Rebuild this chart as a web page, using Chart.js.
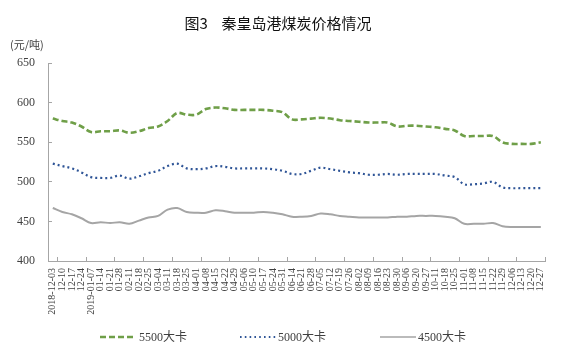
<!DOCTYPE html>
<html>
<head>
<meta charset="utf-8">
<script src="https://cdn.jsdelivr.net/npm/chart.js@4.4.1/dist/chart.umd.min.js"></script>
<style>
  html, body { margin: 0; padding: 0; background: #ffffff; }
  #wrap { position: relative; width: 564px; height: 357px; }
  #legend { position: absolute; left: 0; top: 329px; width: 564px; height: 16px;
            font-family: "Liberation Serif", "Noto Sans CJK SC", serif; font-size: 12px; color: #404040; }
  .item { position: absolute; top: 0; height: 16px; line-height: 16px; white-space: nowrap; }
  .item svg { position: absolute; left: 0; top: 3px; }
  .item span { position: absolute; top: 0; }
</style>
</head>
<body>
<div id="wrap">
  <canvas id="c" width="564" height="357"></canvas>
  <div id="legend"></div>
</div>
<script>
const labels = ["2018-12-03","12-10","12-17","12-24","2019-01-07","01-14","01-21","01-28","02-11","02-18",
  "02-25","03-04","03-11","03-18","03-25","04-01","04-08","04-15","04-22","04-29",
  "05-06","05-10","05-17","05-24","05-31","06-14","06-21","06-28","07-05","07-12",
  "07-19","07-26","08-02","08-09","08-16","08-23","08-30","09-06","09-20","09-27",
  "10-11","10-18","10-25","11-01","11-08","11-15","11-22","11-29","12-06","12-13",
  "12-20","12-27"];

const seriesNames = ["5500大卡", "5000大卡", "4500大卡"];

const kcal5500 = [580,577,575,570,563,564,564,565,562,564,
  568,570,577,587,585,585,592,594,593,591,
  591,591,591,590,588,579,579,580,581,580,
  578,577,576,575,575,575,570,571,571,570,
  569,567,565,558,558,558,558,550,548,548,
  548,550];

const kcal5000 = [523,520,517,512,506,505,505,508,504,507,
  511,514,520,523,517,516,517,520,519,517,
  517,517,517,516,514,510,510,514,518,516,
  514,512,511,509,509,510,509,510,510,510,
  510,508,506,497,497,498,500,493,492,492,
  492,492];

const kcal4500 = [467,462,459,454,448,449,448,449,447,451,
  455,457,465,467,462,461,461,464,463,461,
  461,461,462,461,459,456,456,457,460,459,
  457,456,455,455,455,455,456,456,457,457,
  457,456,454,447,447,447,448,444,443,443,
  443,443];

const yTicks = [400, 450, 500, 550, 600, 650];

const styles = [
  { color: '#6f9f48', width: 2.6, dash: [6, 3] },
  { color: '#2f5597', width: 2.2, dash: [2, 3] },
  { color: '#a5a5a5', width: 2.0, dash: [] }
];
const seriesData = [kcal5500, kcal5000, kcal4500];

const serif = '"Liberation Serif", "Times New Roman", "Noto Sans CJK SC", serif';
const axisColor = '#a6a6a6';

const datasets = seriesData.map((d, i) => ({
  label: seriesNames[i],
  data: d,
  borderColor: styles[i].color,
  backgroundColor: styles[i].color,
  borderWidth: styles[i].width,
  borderDash: styles[i].dash,
  pointRadius: 0,
  pointHoverRadius: 0,
  tension: 0.35,
  fill: false
}));

new Chart(document.getElementById('c'), {
  type: 'line',
  data: { labels: labels, datasets: datasets },
  options: {
    responsive: false,
    animation: false,
    layout: { padding: { left: 10, right: 18, top: 0, bottom: 0 } },
    plugins: {
      legend: { display: false },
      tooltip: { enabled: false },
      title: {
        display: true,
        text: '图3    秦皇岛港煤炭价格情况',
        color: '#111111',
        font: { family: '"Noto Sans CJK SC", sans-serif', size: 15, weight: 'normal' },
        padding: { top: 14, bottom: 4 }
      },
      subtitle: {
        display: true,
        text: '(元/吨)',
        align: 'start',
        color: '#404040',
        font: { family: '"Noto Sans CJK SC", sans-serif', size: 11 },
        padding: { top: 2, bottom: 12 }
      }
    },
    scales: {
      x: {
        type: 'category',
        offset: true,
        grid: {
          offset: true,
          drawOnChartArea: false,
          drawTicks: true,
          tickLength: -4,
          color: (ctx) => (ctx.index === undefined || ctx.index % 3 === 1) ? axisColor : 'rgba(0,0,0,0)'
        },
        border: { display: true, color: axisColor, width: 1 },
        ticks: {
          autoSkip: false,
          minRotation: 90,
          maxRotation: 90,
          padding: 11,
          color: '#404040',
          font: { family: serif, size: 10 }
        },
        afterFit: (scale) => { scale.height = 96; }
      },
      y: {
        min: 400,
        max: 650,
        afterBuildTicks: (scale) => { scale.ticks = yTicks.map(v => ({ value: v })); },
        grid: {
          drawOnChartArea: false,
          drawTicks: true,
          tickLength: -4,
          color: axisColor
        },
        border: { display: true, color: axisColor, width: 1 },
        ticks: {
          padding: 17,
          color: '#404040',
          font: { family: serif, size: 12 }
        },
        afterFit: (scale) => { scale.width = 38; }
      }
    }
  }
});

// Legend (HTML text, samples styled like the series)
const legendLeft = [100, 240, 380];
const legendEl = document.getElementById('legend');
seriesNames.forEach((name, i) => {
  const item = document.createElement('div');
  item.className = 'item';
  item.style.left = legendLeft[i] + 'px';
  const s = styles[i];
  const dash = s.dash.length ? (i === 1 ? '1.6 3.2' : s.dash.join(' ')) : 'none';
  const w = i === 2 ? 1.5 : s.width;
  item.innerHTML = '<svg width="36" height="10"><line x1="0" y1="5" x2="36" y2="5" stroke="' + s.color +
    '" stroke-width="' + w + '" stroke-dasharray="' + dash + '"/></svg>' +
    '<span style="left:' + (i === 0 ? 39 : 38) + 'px">' + name + '</span>';
  legendEl.appendChild(item);
});
</script>
</body>
</html>
